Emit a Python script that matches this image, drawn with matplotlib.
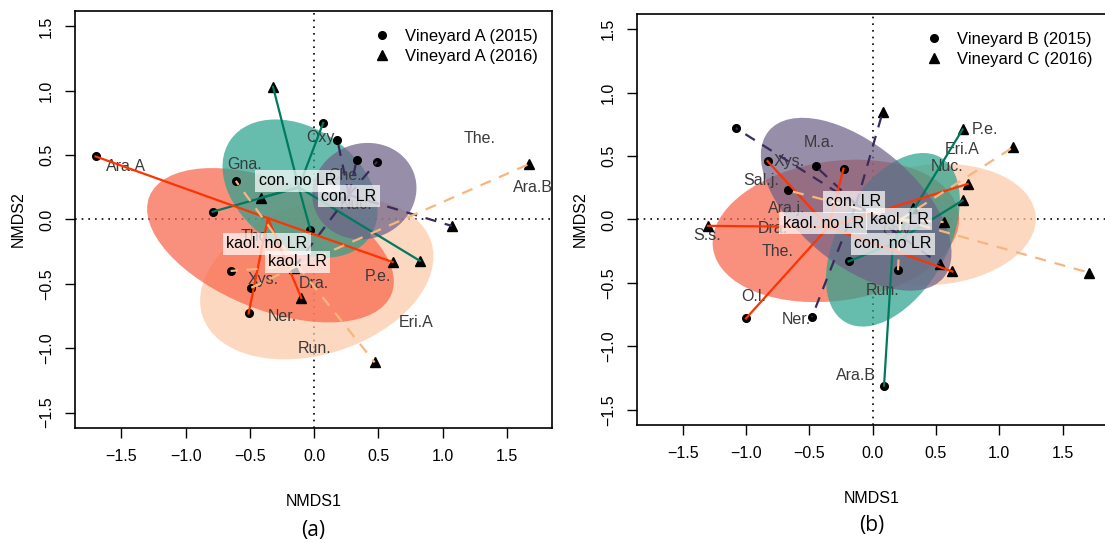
import matplotlib
matplotlib.use('Agg')
import matplotlib.pyplot as plt
from matplotlib.patches import Ellipse
from matplotlib.lines import Line2D

plt.rcParams['font.family'] = ['Liberation Sans', 'DejaVu Sans']

groups = ['con. no LR', 'con. LR', 'kaol. no LR', 'kaol. LR']
line_cols = ['#007a5e', '#3b2a5c', '#ff3300', '#f6b67f']
fill_cols = ['#2ba28e', '#6f6288', '#f8664b', '#fbcaa8']
line_styles = ['-', (0, (5, 4)), '-', (0, (5, 4))]

# ---- panel (a): Vineyard A ----
a_x = [-0.79, 0.07, -0.03, -0.32, 0.82, -0.41,
       0.18, 0.33, 0.49, 1.07, -0.16,
       -1.70, -0.51, 0.61, -0.10,
       -0.61, -0.65, -0.49, 1.67, 0.47]
a_y = [0.06, 0.75, -0.08, 1.03, -0.32, 0.17,
       0.62, 0.46, 0.45, -0.05, -0.38,
       0.49, -0.73, -0.33, -0.61,
       0.30, -0.40, -0.53, 0.43, -1.11]
a_year = [0, 0, 0, 1, 1, 1,
          0, 0, 0, 1, 1,
          0, 0, 1, 1,
          0, 0, 0, 1, 1]
a_grp = [0, 0, 0, 0, 0, 0,
         1, 1, 1, 1, 1,
         2, 2, 2, 2,
         3, 3, 3, 3, 3]
a_hub_x = [-0.12, 0.27, -0.36, -0.13]
a_hub_y = [0.25, 0.19, 0.01, -0.36]
a_lab_x = [-0.13, 0.27, -0.37, -0.13]
a_lab_y = [0.30, 0.18, -0.19, -0.33]
a_ell_x = [-0.11, 0.39, -0.34, 0.02]
a_ell_y = [0.24, 0.22, -0.20, -0.46]
a_ell_w = [1.32, 0.82, 2.03, 1.87]
a_ell_h = [0.93, 0.74, 1.00, 1.17]
a_ell_ang = [-35, 20, -22, 18]
a_species = ['Ara.A', 'Gna.', 'Oxy.', 'Che.', 'Nuc.', 'Tho.', 'Xys.', 'Ner.',
             'Dra.', 'P.e.', 'Eri.A', 'Run.', 'The.', 'Ara.B']
a_sp_x = [-1.46, -0.54, 0.06, 0.24, 0.33, -0.45, -0.40, -0.25,
          0.00, 0.50, 0.79, 0.00, 1.29, 1.70]
a_sp_y = [0.41, 0.43, 0.64, 0.34, 0.12, -0.13, -0.47, -0.75,
          -0.50, -0.44, -0.80, -1.00, 0.63, 0.25]
a_legend = ['Vineyard A (2015)', 'Vineyard A (2016)']

# ---- panel (b): Vineyards B and C ----
b_x = [-0.19, 0.09, 0.71, 0.71, 0.32,
       -1.08, -0.45, -0.48, 0.08, 0.53,
       -0.83, -0.23, -1.00, -1.30, 0.75, 0.63,
       -0.67, 0.20, 1.11, 1.71, 0.56]
b_y = [-0.33, -1.31, 0.71, 0.15, 0.09,
       0.72, 0.42, -0.77, 0.85, -0.35,
       0.46, 0.40, -0.78, -0.05, 0.28, -0.41,
       0.23, -0.40, 0.57, -0.42, -0.02]
b_year = [0, 0, 1, 1, 1,
          0, 0, 0, 1, 1,
          0, 0, 0, 1, 1, 1,
          0, 0, 1, 1, 1]
b_grp = [0, 0, 0, 0, 0,
         1, 1, 1, 1, 1,
         2, 2, 2, 2, 2, 2,
         3, 3, 3, 3, 3]
b_hub_x = [0.16, -0.13, -0.35, 0.22]
b_hub_y = [-0.19, 0.12, -0.06, 0.00]
b_lab_x = [0.16, -0.15, -0.39, 0.21]
b_lab_y = [-0.19, 0.14, -0.03, 0.00]
b_ell_x = [0.16, -0.13, -0.29, 0.49]
b_ell_y = [-0.16, 0.12, -0.09, -0.04]
b_ell_w = [1.50, 1.80, 1.96, 1.60]
b_ell_h = [0.86, 0.94, 1.10, 0.95]
b_ell_ang = [60, -40, 8, 5]
b_species = ['M.a.', 'Xys.', 'Sal.j.', 'Ara.j.', 'Dra.', 'The.', 'S.s.', 'O.l.',
             'Ner.', 'Ara.B', 'Run.', 'Oxy.', 'Nuc.', 'Eri.A', 'P.e.']
b_sp_x = [-0.42, -0.66, -0.88, -0.68, -0.79, -0.75, -1.31, -0.94,
          -0.60, -0.13, 0.08, 0.20, 0.59, 0.71, 0.89]
b_sp_y = [0.61, 0.46, 0.31, 0.09, -0.07, -0.25, -0.13, -0.61,
          -0.79, -1.23, -0.56, -0.09, 0.42, 0.55, 0.71]
b_legend = ['Vineyard B (2015)', 'Vineyard C (2016)']

ticks = [-1.5, -1.0, -0.5, 0.0, 0.5, 1.0, 1.5]
tick_labels = ['\u22121.5', '\u22121.0', '\u22120.5', '0.0', '0.5', '1.0', '1.5']


def draw_panel(ax, x, y, year, grp, hub_x, hub_y, lab_x, lab_y,
               ell_x, ell_y, ell_w, ell_h, ell_ang, species, sp_x, sp_y,
               legend, tag):
    ax.set_xlim(-1.86, 1.85)
    ax.set_ylim(-1.62, 1.62)
    ax.axhline(0, color='black', ls=(0, (1, 3)), lw=1.2, zorder=1)
    ax.axvline(0, color='black', ls=(0, (1, 3)), lw=1.2, zorder=1)

    # ellipses
    for g in [3, 2, 0, 1]:
        ax.add_patch(Ellipse((ell_x[g], ell_y[g]), ell_w[g], ell_h[g],
                             angle=ell_ang[g], facecolor=fill_cols[g],
                             edgecolor='none', alpha=0.72, zorder=2))

    # species names
    for s, sx, sy in zip(species, sp_x, sp_y):
        ax.text(sx, sy, s, color='#3a3a3a', fontsize=11.5,
                ha='center', va='center', zorder=3)

    # sites
    for xi, yi, yr in zip(x, y, year):
        ax.plot(xi, yi, marker='o' if yr == 0 else '^', color='black',
                ms=5.5 if yr == 0 else 6.5, ls='none', zorder=4)

    # spiders
    for xi, yi, g in zip(x, y, grp):
        ax.plot([hub_x[g], xi], [hub_y[g], yi], color=line_cols[g],
                ls=line_styles[g], lw=1.6, zorder=5)

    # group labels
    for g in range(4):
        ax.text(lab_x[g], lab_y[g], groups[g], fontsize=11.5, color='black',
                ha='center', va='center', zorder=6,
                bbox=dict(facecolor='white', alpha=0.7, edgecolor='none',
                          pad=2.5))

    handles = [Line2D([], [], marker='o', color='black', ls='none', ms=5.5),
               Line2D([], [], marker='^', color='black', ls='none', ms=6.5)]
    ax.legend(handles, legend, loc='upper right', frameon=False,
              fontsize=12, handletextpad=0.4, borderaxespad=0.3,
              labelspacing=0.3, bbox_to_anchor=(0.995, 0.985))

    ax.set_xticks(ticks)
    ax.set_yticks(ticks)
    ax.set_xticklabels(tick_labels)
    ax.set_yticklabels(tick_labels, rotation=90, va='center')
    ax.tick_params(labelsize=11.5, length=7, width=1, pad=8)
    ax.set_xlabel('NMDS1', fontsize=11.5, labelpad=22)
    ax.set_ylabel('NMDS2', fontsize=11.5, labelpad=10)
    for sp in ax.spines.values():
        sp.set_linewidth(1.2)
    ax.text(0.5, -0.245, tag, transform=ax.transAxes, ha='center', va='center',
            fontsize=15, family='Open Sans')


fig = plt.figure(figsize=(11.05, 5.43), dpi=100)
ax1 = fig.add_axes([0.0679, 0.2118, 0.4317, 0.768])
ax2 = fig.add_axes([0.5765, 0.2173, 0.4253, 0.757])

draw_panel(ax1, a_x, a_y, a_year, a_grp, a_hub_x, a_hub_y, a_lab_x, a_lab_y,
           a_ell_x, a_ell_y, a_ell_w, a_ell_h, a_ell_ang,
           a_species, a_sp_x, a_sp_y, a_legend, '(a)')
draw_panel(ax2, b_x, b_y, b_year, b_grp, b_hub_x, b_hub_y, b_lab_x, b_lab_y,
           b_ell_x, b_ell_y, b_ell_w, b_ell_h, b_ell_ang,
           b_species, b_sp_x, b_sp_y, b_legend, '(b)')

fig.savefig('out.png', dpi=100)
